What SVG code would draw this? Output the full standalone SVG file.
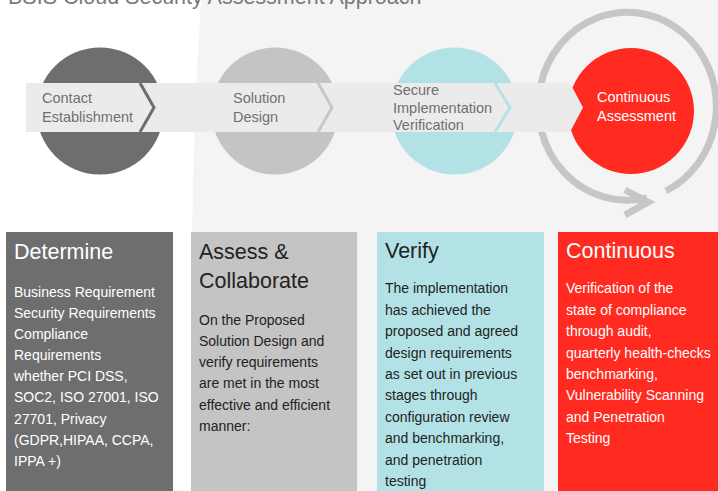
<svg xmlns="http://www.w3.org/2000/svg" width="718" height="491" viewBox="0 0 718 491">
<style>
.t{font-family:"Liberation Sans",Arial,sans-serif}
.band{font-size:14.5px;fill:#707070}
.hd{font-size:21.5px}
.bd{font-size:14px}
.w{fill:#ffffff}
.k{fill:#222222}
.chev{fill:none;stroke-width:3}
</style>
<rect x="0" y="0" width="718" height="491" fill="#ffffff"/>
<path d="M201,0 C196,80 193,160 192,240 L192,491 L718,491 L718,0 Z" fill="#f4f4f4"/>
<text class="t" x="8" y="3.5" font-size="21.5" fill="#7a7a7a">BSIS Cloud Security Assessment Approach</text>

<g id="connectors">
<path d="M666,191 A89,94 0 1 0 647,198" fill="none" stroke="#c6c6c6" stroke-width="7"/>
<polyline points="625,190 648,202 625,215" fill="none" stroke="#c6c6c6" stroke-width="7" stroke-linejoin="miter"/>
</g>

<g id="circle-contact"><circle cx="100" cy="111" r="63.5" fill="#6e6e6e"/></g>
<g id="circle-solution"><circle cx="275" cy="111" r="63.5" fill="#c4c4c4"/></g>
<g id="circle-verify"><circle cx="454.5" cy="111" r="63.5" fill="#b3e2e6"/></g>
<g id="circle-continuous"><circle cx="631" cy="111" r="63" fill="#ff2b20"/></g>

<g id="band">
<polygon points="26,83 570,83 583,107.5 570,132 26,132" fill="#ebebeb"/>
<polyline class="chev" points="140,83 154,107.5 140,132" stroke="#6e6e6e"/>
<polyline class="chev" points="318,83 332,107.5 318,132" stroke="#c8c8c8"/>
<polyline class="chev" points="495,83 510,107.5 495,132" stroke="#b3e2e6"/>
</g>

<g id="label-contact">
<text class="t band" x="42" y="103">Contact</text>
<text class="t band" x="42" y="122">Establishment</text>
</g>
<g id="label-solution">
<text class="t band" x="233" y="103">Solution</text>
<text class="t band" x="233" y="122">Design</text>
</g>
<g id="label-secure">
<text class="t band" x="393" y="95">Secure</text>
<text class="t band" x="393" y="113">Implementation</text>
<text class="t band" x="393" y="130">Verification</text>
</g>
<g id="label-continuous">
<text class="t band w" x="597" y="102">Continuous</text>
<text class="t band w" x="597" y="121">Assessment</text>
</g>

<g id="box-determine">
<rect x="6" y="232" width="167" height="259" fill="#6e6e6e"/>
<text class="t hd w" x="14" y="259">Determine</text>
<text class="t bd w" x="14" y="297">Business Requirement</text>
<text class="t bd w" x="14" y="318">Security Requirements</text>
<text class="t bd w" x="14" y="339">Compliance</text>
<text class="t bd w" x="14" y="360">Requirements</text>
<text class="t bd w" x="14" y="381">whether PCI DSS,</text>
<text class="t bd w" x="14" y="402">SOC2, ISO 27001, ISO</text>
<text class="t bd w" x="14" y="424">27701, Privacy</text>
<text class="t bd w" x="14" y="445">(GDPR,HIPAA, CCPA,</text>
<text class="t bd w" x="14" y="466">IPPA +)</text>
</g>

<g id="box-assess">
<rect x="191" y="232" width="166" height="259" fill="#c4c4c4"/>
<text class="t hd k" x="199" y="259">Assess &amp;</text>
<text class="t hd k" x="199" y="288">Collaborate</text>
<text class="t bd k" x="199" y="325">On the Proposed</text>
<text class="t bd k" x="199" y="346">Solution Design and</text>
<text class="t bd k" x="199" y="367">verify requirements</text>
<text class="t bd k" x="199" y="388">are met in the most</text>
<text class="t bd k" x="199" y="410">effective and efficient</text>
<text class="t bd k" x="199" y="431">manner:</text>
</g>

<g id="box-verify">
<rect x="377" y="232" width="167" height="259" fill="#b3e2e6"/>
<text class="t hd k" x="385" y="258">Verify</text>
<text class="t bd k" x="385" y="293">The implementation</text>
<text class="t bd k" x="385" y="315">has achieved the</text>
<text class="t bd k" x="385" y="336">proposed and agreed</text>
<text class="t bd k" x="385" y="358">design requirements</text>
<text class="t bd k" x="385" y="379">as set out in previous</text>
<text class="t bd k" x="385" y="400">stages through</text>
<text class="t bd k" x="385" y="422">configuration review</text>
<text class="t bd k" x="385" y="443">and benchmarking,</text>
<text class="t bd k" x="385" y="465">and penetration</text>
<text class="t bd k" x="385" y="486">testing</text>
</g>

<g id="box-continuous">
<rect x="558" y="232" width="160" height="259" fill="#ff2b20"/>
<text class="t hd w" x="566" y="258">Continuous</text>
<text class="t bd w" x="566" y="293">Verification of the</text>
<text class="t bd w" x="566" y="315">state of compliance</text>
<text class="t bd w" x="566" y="336">through audit,</text>
<text class="t bd w" x="566" y="358">quarterly health-checks</text>
<text class="t bd w" x="566" y="379">benchmarking,</text>
<text class="t bd w" x="566" y="400">Vulnerability Scanning</text>
<text class="t bd w" x="566" y="422">and Penetration</text>
<text class="t bd w" x="566" y="443">Testing</text>
</g>
</svg>
